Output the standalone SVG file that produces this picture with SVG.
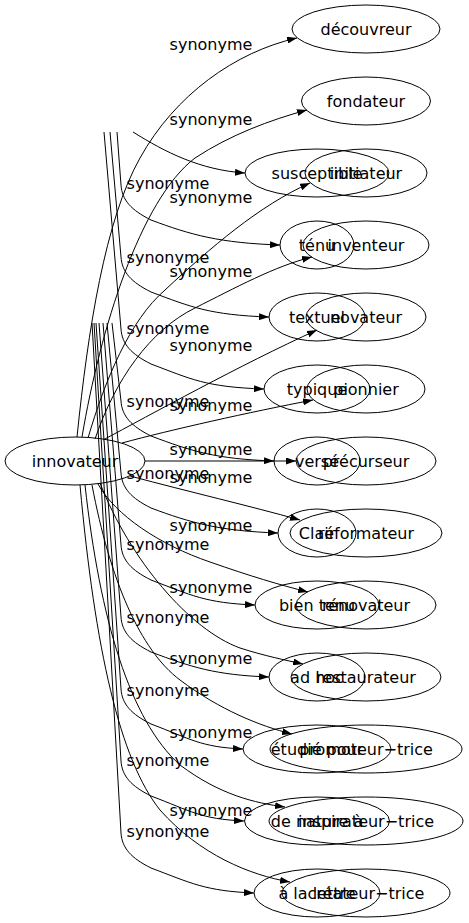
<svg xmlns="http://www.w3.org/2000/svg" width="469" height="923" viewBox="0 0 469 923">
<style>
.n ellipse{fill:none;stroke:#000;stroke-width:1}
.n text{font-family:"DejaVu Sans",sans-serif;font-size:16px;text-anchor:middle;fill:#000}
.e path{fill:none;stroke:#000;stroke-width:1;marker-end:url(#ah)}
.e text{font-family:"DejaVu Sans",sans-serif;font-size:16px;text-anchor:middle;fill:#000}
</style>
<defs>
<marker id="ah" viewBox="0 0 10 7" refX="10" refY="3.5" markerWidth="10" markerHeight="7" markerUnits="userSpaceOnUse" orient="auto">
<path d="M0,0 L10,3.5 L0,7 z" fill="#000"/>
</marker>
</defs>
<rect width="469" height="923" fill="#fff"/>
<g id="edges" class="e">
<!-- graph A: innovateur -->
<path d="M77,437 C88,330 105,220 140,158 C175,95 235,52 297,38"/>
<path d="M82,437 C100,330 140,200 195,158 C230,135 270,120 307,110"/>
<path d="M88,438 C105,380 130,320 165,290 C210,248 260,205 310,183"/>
<path d="M95,439 C115,380 150,330 195,308 C235,288 275,266 312,257"/>
<path d="M103,440 C150,415 240,365 317,330"/>
<path d="M122,443 C170,430 250,412 313,400"/>
<path d="M145,461 L296,461"/>
<path d="M130,476 C190,492 250,506 300,520"/>
<path d="M98,484 C115,515 160,545 210,562 C250,576 280,585 308,592"/>
<path d="M100,483 C130,560 190,630 240,648 C265,656 285,660 303,664"/>
<path d="M92,485 C110,580 140,650 180,680 C220,710 260,726 292,734"/>
<path d="M85,485 C100,620 130,720 180,765 C220,795 255,803 285,807"/>
<path d="M80,485 C95,650 120,760 160,810 C200,855 250,875 290,882"/>
<text x="211" y="50">synonyme</text>
<text x="211" y="125">synonyme</text>
<text x="211" y="203">synonyme</text>
<text x="211" y="277">synonyme</text>
<text x="211" y="351">synonyme</text>
<text x="211" y="411">synonyme</text>
<text x="211" y="455">synonyme</text>
<text x="211" y="483">synonyme</text>
<text x="211" y="531">synonyme</text>
<text x="211" y="593">synonyme</text>
<text x="211" y="664">synonyme</text>
<text x="211" y="738">synonyme</text>
<text x="211" y="816">synonyme</text>
<!-- graph B -->
<path d="M133,132 C165,152 200,170 245,173"/>
<path d="M117,132 L121,185 C122,200 131,210 151,220 C191,235 220,243 280,245"/>
<path d="M110,132 L121,257 C122,272 131,282 151,292 C191,307 210,315 269,317"/>
<path d="M104,132 L121,329 C122,344 131,354 151,364 C191,379 205,387 264,389"/>
<path d="M112,323 L121,401 C122,416 131,426 151,436 C191,451 215,459 274,461"/>
<path d="M107,323 L121,473 C122,488 131,498 151,508 C191,523 220,531 278,533"/>
<path d="M103,323 L121,545 C122,560 131,570 151,580 C191,595 205,603 255,605"/>
<path d="M99,323 L121,617 C122,632 131,642 151,652 C191,667 215,675 269,677"/>
<path d="M96,323 L121,689 C122,704 131,714 151,724 C191,739 200,747 243,749"/>
<path d="M94,323 L121,761 C122,776 131,786 151,796 C191,811 200,819 244,821"/>
<path d="M92,323 L121,833 C122,848 131,858 151,868 C191,883 205,891 254,893"/>
<text x="168" y="189">synonyme</text>
<text x="168" y="263">synonyme</text>
<text x="168" y="334">synonyme</text>
<text x="168" y="407">synonyme</text>
<text x="168" y="479">synonyme</text>
<text x="168" y="550">synonyme</text>
<text x="168" y="623">synonyme</text>
<text x="168" y="696">synonyme</text>
<text x="168" y="766">synonyme</text>
<text x="168" y="837">synonyme</text>
</g>
<g id="innovateur" class="n"><ellipse cx="75" cy="461" rx="70" ry="24"/><text x="75" y="466.5">innovateur</text></g>
<g id="decouvreur" class="n"><ellipse cx="366" cy="29" rx="74" ry="24"/><text x="366" y="34.5">découvreur</text></g>
<g id="fondateur" class="n"><ellipse cx="366" cy="101" rx="64.5" ry="24"/><text x="366" y="106.5">fondateur</text></g>
<g id="initiateur" class="n"><ellipse cx="366" cy="173" rx="61" ry="24"/><text x="366" y="178.5">initiateur</text></g>
<g id="inventeur" class="n"><ellipse cx="366" cy="245" rx="63" ry="24"/><text x="366" y="250.5">inventeur</text></g>
<g id="novateur" class="n"><ellipse cx="366" cy="317" rx="60" ry="24"/><text x="366" y="322.5">novateur</text></g>
<g id="pionnier" class="n"><ellipse cx="366" cy="389" rx="59" ry="24"/><text x="366" y="394.5">pionnier</text></g>
<g id="precurseur" class="n"><ellipse cx="366" cy="461" rx="70" ry="24"/><text x="366" y="466.5">précurseur</text></g>
<g id="reformateur" class="n"><ellipse cx="366" cy="533" rx="76" ry="24"/><text x="366" y="538.5">réformateur</text></g>
<g id="renovateur" class="n"><ellipse cx="366" cy="605" rx="70" ry="24"/><text x="366" y="610.5">rénovateur</text></g>
<g id="restaurateur" class="n"><ellipse cx="366" cy="677" rx="75" ry="24"/><text x="366" y="682.5">restaurateur</text></g>
<g id="promoteur-trice" class="n"><ellipse cx="366" cy="749" rx="96" ry="24"/><text x="366" y="754.5">promoteur−trice</text></g>
<g id="inspirateur-trice" class="n"><ellipse cx="366" cy="821" rx="97" ry="24"/><text x="366" y="826.5">inspirateur−trice</text></g>
<g id="createur-trice" class="n"><ellipse cx="366" cy="893" rx="84" ry="24"/><text x="366" y="898.5">créateur−trice</text></g>
<g id="susceptible" class="n"><ellipse cx="317" cy="173" rx="72" ry="24"/><text x="317" y="178.5">susceptible</text></g>
<g id="tenu" class="n"><ellipse cx="317" cy="245" rx="37" ry="24"/><text x="317" y="250.5">ténu</text></g>
<g id="textuel" class="n"><ellipse cx="317" cy="317" rx="48" ry="24"/><text x="317" y="322.5">textuel</text></g>
<g id="typique" class="n"><ellipse cx="317" cy="389" rx="53" ry="24"/><text x="317" y="394.5">typique</text></g>
<g id="verse" class="n"><ellipse cx="317" cy="461" rx="43" ry="24"/><text x="317" y="466.5">versé</text></g>
<g id="clair" class="n"><ellipse cx="317" cy="533" rx="39" ry="24"/><text x="317" y="538.5">Clair</text></g>
<g id="bien-tenu" class="n"><ellipse cx="317" cy="605" rx="62" ry="24"/><text x="317" y="610.5">bien tenu</text></g>
<g id="ad-hoc" class="n"><ellipse cx="317" cy="677" rx="48" ry="24"/><text x="317" y="682.5">ad hoc</text></g>
<g id="etudie-pour" class="n"><ellipse cx="317" cy="749" rx="74" ry="24"/><text x="317" y="754.5">étudié pour</text></g>
<g id="de-nature-a" class="n"><ellipse cx="317" cy="821" rx="72.5" ry="24"/><text x="317" y="826.5">de nature à</text></g>
<g id="a-la-lettre" class="n"><ellipse cx="317" cy="893" rx="63" ry="24"/><text x="317" y="898.5">à la lettre</text></g>
</svg>
